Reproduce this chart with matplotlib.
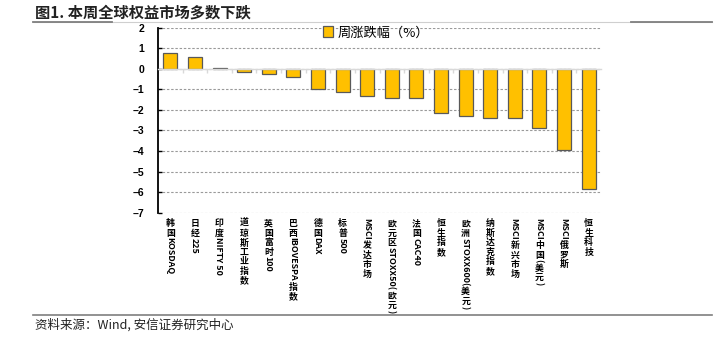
import matplotlib
matplotlib.use('Agg')
import matplotlib.pyplot as plt
import matplotlib.transforms as mtransforms
from matplotlib.font_manager import FontProperties
from matplotlib.textpath import TextPath
from matplotlib.lines import Line2D
from matplotlib.patches import Patch

plt.rcParams['font.family'] = ['Noto Sans CJK SC', 'DejaVu Sans']
plt.rcParams['axes.unicode_minus'] = True

names = ['韩国KOSDAQ', '日经225', '印度NIFTY 50', '道琼斯工业指数', '英国富时100',
         '巴西IBOVESPA指数', '德国DAX', '标普500', 'MSCI发达市场', '欧元区STOXX50(欧元)',
         '法国CAC40', '恒生指数', '欧洲STOXX600(美元)', '纳斯达克指数', 'MSCI新兴市场',
         'MSCI中国(美元)', 'MSCI俄罗斯', '恒生科技']
weekly = [0.75, 0.58, 0.03, -0.16, -0.24, -0.40, -0.99, -1.12, -1.30, -1.41,
          -1.43, -2.17, -2.29, -2.40, -2.40, -2.90, -3.97, -5.85]
yticks = [2, 1, 0, -1, -2, -3, -4, -5, -6, -7]

fig = plt.figure(figsize=(7.25, 3.38), dpi=100)
ax = fig.add_axes([158/725, 1-212.7/338, 443/725, 185/338])

x = list(range(len(names)))
ax.bar(x, weekly, width=0.57, color='#FFC000', edgecolor='#595959', linewidth=0.9, zorder=3)

ax.set_xlim(-0.5, len(names) - 0.5)
ax.set_ylim(-7, 2)
ax.set_yticks(yticks)
ax.set_yticklabels([str(v).replace('-', '\u2013') for v in yticks],
                   fontsize=7.5, fontweight='bold', family=['Liberation Sans'])
ax.yaxis.grid(True, color='#9a9a9a', linestyle=(0, (2.2, 1.6)), linewidth=0.8)
ax.set_axisbelow(True)

for s in ['top', 'right']:
    ax.spines[s].set_visible(False)
ax.spines['left'].set_linewidth(1.3)
ax.spines['bottom'].set_position(('data', 0))
ax.spines['bottom'].set_color('#d9d9d9')
ax.spines['bottom'].set_linewidth(1.0)
ax.spines['bottom'].set_zorder(4)
ax.set_xticks([i + 0.5 for i in x[:-1]])
ax.set_xticklabels([])
ax.tick_params(axis='x', direction='out', length=3, color='#d9d9d9', width=1)
ax.tick_params(axis='y', direction='in', length=3, width=1, pad=10)

# vertical category labels: CJK upright, latin runs rotated, spaced by ink size
fs = 6.4
gap = 1.1
fp = FontProperties(family='Noto Sans CJK SC', weight='bold', size=fs)
trans = mtransforms.blended_transform_factory(ax.transData, ax.transAxes)
cjk_ext = TextPath((0, 0), '国', size=fs, prop=fp).get_extents()
cap_ext = TextPath((0, 0), 'H', size=fs, prop=fp).get_extents()

def is_cjk(ch):
    return ord(ch) >= 0x2E80

for i, name in enumerate(names):
    runs = []
    for ch in name:
        if runs and not is_cjk(ch) and not is_cjk(runs[-1][0]):
            runs[-1] += ch
        else:
            runs.append(ch)
    off = 4.6 - gap
    for run in runs:
        if is_cjk(run[0]):
            top = off + gap
            ax.annotate(run, xy=(i, 0), xycoords=trans, xytext=(0, -(top + cjk_ext.y1)),
                        textcoords='offset points', ha='center', va='baseline',
                        fontproperties=fp, annotation_clip=False)
            off = top + cjk_ext.height
        else:
            ext = TextPath((0, 0), run, size=fs, prop=fp).get_extents()
            start = off + gap
            ax.annotate(run, xy=(i, 0), xycoords=trans,
                        xytext=(-(cap_ext.y0 + cap_ext.y1) / 2, -(start - ext.x0)),
                        textcoords='offset points', ha='left', va='baseline',
                        rotation=-90, rotation_mode='anchor',
                        fontproperties=fp, annotation_clip=False)
            off = start + ext.width

handle = Patch(facecolor='#FFC000', edgecolor='#595959', linewidth=0.9)
ax.legend([handle], ['周涨跌幅（%）'], loc='center left',
          bbox_to_anchor=((318-158)/443, (212.7-33)/185), frameon=False,
          handlelength=0.75, handleheight=0.9, handletextpad=0.35,
          borderaxespad=0, prop={'size': 9.5, 'weight': 'medium'})

# title and source decoration
fig.text(35/725, 1-12/338, '图1. 本周全球权益市场多数下跌', fontsize=11,
         fontweight='bold', va='center', ha='left', color='#222222')
fig.add_artist(Line2D([33/725, 712/725], [1-21.5/338, 1-21.5/338], color='#cfcfcf', linewidth=0.8))
fig.add_artist(Line2D([33/725, 112/725], [1-22/338, 1-22/338], color='#7f7f7f', linewidth=1.3))
fig.add_artist(Line2D([631/725, 712/725], [1-22/338, 1-22/338], color='#7f7f7f', linewidth=1.3))
fig.add_artist(Line2D([33/725, 712/725], [1-314.7/338, 1-314.7/338], color='#7f7f7f', linewidth=1.2))
fig.text(35/725, 1-325/338, '资料来源：Wind, 安信证券研究中心', fontsize=9,
         va='center', ha='left', color='#222222', style='italic')

fig.savefig('out.png', dpi=100)
